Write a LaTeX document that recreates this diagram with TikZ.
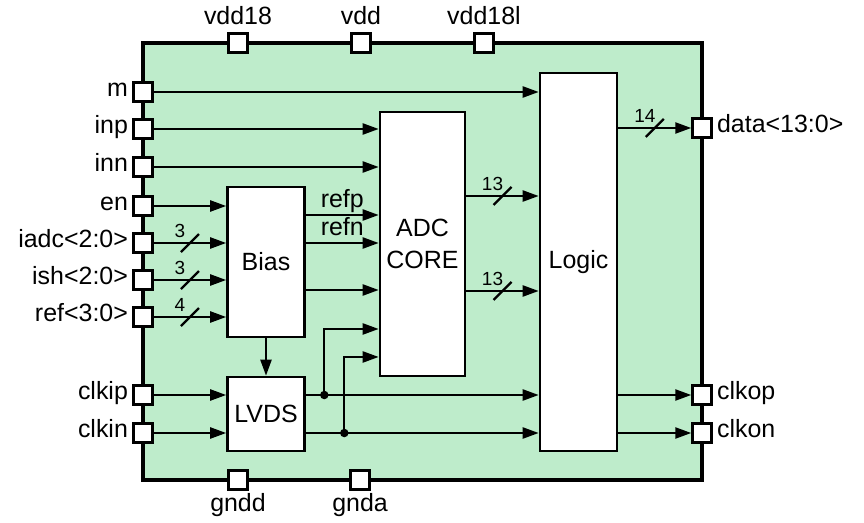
\documentclass[tikz,border=0pt]{standalone}
\usepackage{fontspec}
\setmainfont{Liberation Sans}
\usetikzlibrary{arrows.meta,calc}

\definecolor{chipgreen}{RGB}{190,236,203}

% slash mark with bus width on a line
\newcommand{\busmark}[2]{%
    \draw[tick] ($(#1)+(-9,9)$) -- ($(#1)+(9,-9)$);
    \node[buslbl] (#1-w) at ($(#1)+(-10,-12)$) {#2};
}

\begin{document}
\begin{tikzpicture}[
        x=0.02cm,
        y=-0.02cm,
        chip/.style={
            rectangle,
            draw,
            line width=2.3pt,
            fill=chipgreen,
            minimum width=11.18cm,
            minimum height=8.74cm
        },
        blk/.style={
            rectangle,
            draw,
            line width=1.5pt,
            fill=white,
            align=center,
            font=\fontsize{14.2}{18}\selectfont
        },
        pin/.style={
            rectangle,
            draw,
            line width=1.4pt,
            fill=white,
            minimum size=0.38cm,
            inner sep=0pt
        },
        lbl/.style={
            font=\fontsize{14.2}{17}\selectfont,
            text height=0.77em,
            text depth=0.21em,
            inner sep=0.08cm
        },
        sig/.style={
            line width=1.3pt,
            -{Triangle[length=0.32cm,width=0.22cm]}
        },
        tick/.style={
            line width=1.3pt
        },
        buslbl/.style={
            font=\fontsize{10.8}{12}\selectfont,
            inner sep=0pt
        },
        dot/.style={
            circle,
            fill,
            inner sep=0pt,
            minimum size=0.17cm
        }
    ]

        \useasboundingbox (0,0) rectangle (864,523);

        \node[chip] (chip) at (422.5,261.5) {};

        % blocks
        \node[blk, minimum width=1.54cm, minimum height=3cm] (bias) at (266,262) {Bias};
        \node[blk, minimum width=1.54cm, minimum height=1.48cm] (lvds) at (266,414) {LVDS};
        \node[blk, minimum width=1.7cm, minimum height=5.28cm] (adc) at (422.5,244) {ADC\\CORE};
        \node[blk, minimum width=1.54cm, minimum height=7.56cm] (logic) at (578.5,262) {Logic};

        % pins
        \foreach \nm/\yy/\txt in {m/92/m, inp/129/inp, inn/167/inn, en/206/en,
                iadc/243/iadc<2:0>, ish/280/ish<2:0>, ref/317/ref<3:0>,
                clkip/395/clkip, clkin/433/clkin} {
            \node[pin] (\nm) at (143,\yy) {};
            \node[lbl, anchor=east] (\nm-t) at (\nm.west) {\txt};
        }
        \foreach \nm/\yy/\txt in {data/128/data<13:0>, clkop/395/clkop, clkon/433/clkon} {
            \node[pin] (\nm) at (702,\yy) {};
            \node[lbl, anchor=west] (\nm-t) at (\nm.east) {\txt};
        }
        \foreach \nm/\xx in {vdd18/238, vdd/361, vdd18l/484} {
            \node[pin] (\nm) at (\xx,43) {};
            \node[lbl, anchor=south] (\nm-t) at (\nm.north) {\nm};
        }
        \foreach \nm/\xx in {gndd/238, gnda/360} {
            \node[pin] (\nm) at (\xx,480) {};
            \node[lbl, anchor=north, yshift=-0.06cm] (\nm-t) at (\nm.south) {\nm};
        }

        % inputs
        \draw[sig] (m) -- (m -| logic.west);
        \draw[sig] (inp) -- (inp -| adc.west);
        \draw[sig] (inn) -- (inn -| adc.west);
        \draw[sig] (en) -- (en -| bias.west);
        \foreach \nm/\w in {iadc/3, ish/3, ref/4} {
            \draw[sig] (\nm) -- coordinate (\nm-b) (\nm -| bias.west);
            \busmark{\nm-b}{\w}
        }
        \draw[sig] (clkip) -- (clkip -| lvds.west);
        \draw[sig] (clkin) -- (clkin -| lvds.west);

        % bias to core
        \draw[sig] ([yshift=0.94cm]bias.east) -- node[lbl, anchor=base, yshift=0.16cm] (refp) {refp}
            ([yshift=0.94cm]bias.east -| adc.west);
        \draw[sig] ([yshift=0.38cm]bias.east) -- node[lbl, anchor=base, yshift=0.16cm] (refn) {refn}
            ([yshift=0.38cm]bias.east -| adc.west);
        \draw[sig] ([yshift=-0.56cm]bias.east) -- ([yshift=-0.56cm]bias.east -| adc.west);
        \draw[sig] (bias) -- (lvds);

        % core to logic
        \draw[sig] ([yshift=0.96cm]adc.east) -- coordinate (d1) ([yshift=0.96cm]adc.east -| logic.west);
        \draw[sig] ([yshift=-0.94cm]adc.east) -- coordinate (d2) ([yshift=-0.94cm]adc.east -| logic.west);
        \busmark{d1}{13}
        \busmark{d2}{13}

        % clocks
        \draw[sig] (clkip -| lvds.east) -- (clkip -| logic.west);
        \draw[sig] (clkin -| lvds.east) -- (clkin -| logic.west);
        \node[dot] (j1) at ([xshift=0.37cm]clkip -| lvds.east) {};
        \node[dot] (j2) at ([xshift=0.77cm]clkin -| lvds.east) {};
        \draw[sig] (j1.center) |- ([yshift=-1.7cm]adc.west);
        \draw[sig] (j2.center) |- ([yshift=-2.26cm]adc.west);

        % outputs
        \draw[sig] (data -| logic.east) -- coordinate (d3) (data);
        \busmark{d3}{14}
        \draw[sig] (clkop -| logic.east) -- (clkop);
        \draw[sig] (clkon -| logic.east) -- (clkon);

    \end{tikzpicture}
\end{document}
